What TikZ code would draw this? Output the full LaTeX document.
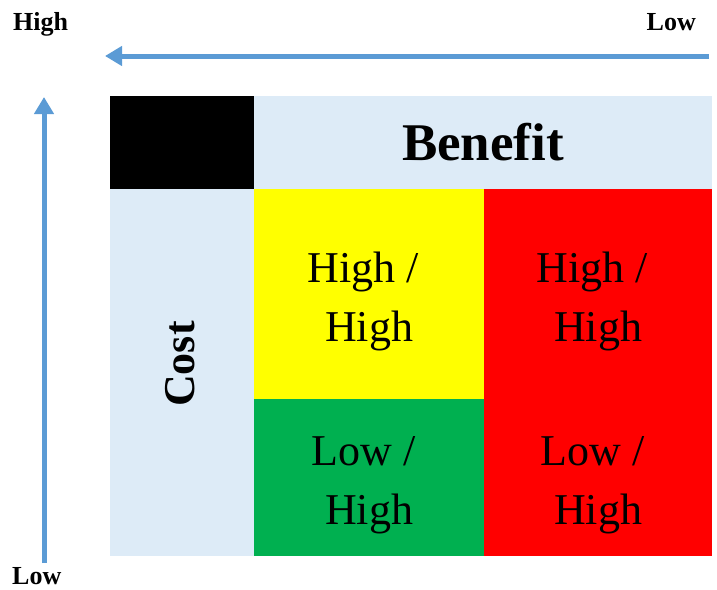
\documentclass[tikz,border=0pt]{standalone}
\usepackage{fontspec}
\setmainfont{Liberation Serif}
\usepackage{xcolor}
\usetikzlibrary{arrows.meta}
\definecolor{axisblue}{RGB}{91,155,213}
\definecolor{headblue}{RGB}{221,235,247}
\definecolor{cellgreen}{RGB}{0,176,80}
\definecolor{cellyellow}{RGB}{255,255,0}
\definecolor{cellred}{RGB}{255,0,0}
\newcommand{\topgap}{\rule{0pt}{45pt}}

\begin{document}
\begin{tikzpicture}[x=1pt,y=-1pt]
    \useasboundingbox (0,0) rectangle (717,589);
    \tikzstyle{cell}=[inner sep=0pt, align=center, font=\fontsize{44}{59}\selectfont]
    \tikzstyle{head}=[cell, fill=headblue, font=\fontsize{53}{60}\selectfont\bfseries]
    \tikzstyle{tag}=[inner sep=0pt, text depth=0pt, font=\fontsize{26}{30}\selectfont\bfseries]
    \tikzstyle{axis}=[-{Triangle[width=19pt,length=17pt]}, draw=axisblue, line width=5pt]

    % header row and column
    \node[cell, fill=black, minimum width=144pt, minimum height=93pt] (corner) at (182,142.5) {};
    \node[head, minimum width=458pt, minimum height=93pt] (benefit) at (483,142.5) {Benefit};
    \node[head, minimum width=144pt, minimum height=367pt] (costcell) at (182,372.5) {};
    \node[rotate=90, inner sep=0pt, font=\fontsize{44}{50}\selectfont\bfseries] (cost) at (180,364) {Cost};

    % matrix cells
    \node[cell, fill=cellyellow, minimum width=230pt, minimum height=210pt] (hhl) at (369,294) {\topgap High /\kern.25em\\High};
    \node[cell, fill=cellred, minimum width=228pt, minimum height=210pt] (hhr) at (598,294) {\topgap High /\kern.25em\\High};
    \node[cell, fill=cellgreen, minimum width=230pt, minimum height=157pt] (lhl) at (369,477.5) {\topgap Low /\kern.25em\\High};
    \node[cell, fill=cellred, minimum width=228pt, minimum height=157pt] (lhr) at (598,477.5) {\topgap Low /\kern.25em\\High};

    % axis labels
    \node[tag, anchor=base west] (bhigh) at (13,30) {High};
    \node[tag, anchor=base east] (blow) at (696,30) {Low};
    \node[tag, anchor=base west] (clow) at (12,584) {Low};

    % axes
    \coordinate (btail) at (709,56);
    \coordinate (bhead) at (105,56);
    \coordinate (ctail) at (44,563);
    \coordinate (chead) at (44,97);
    \draw [axis] (btail) -- (bhead);
    \draw [axis] (ctail) -- (chead);
\end{tikzpicture}
\end{document}
